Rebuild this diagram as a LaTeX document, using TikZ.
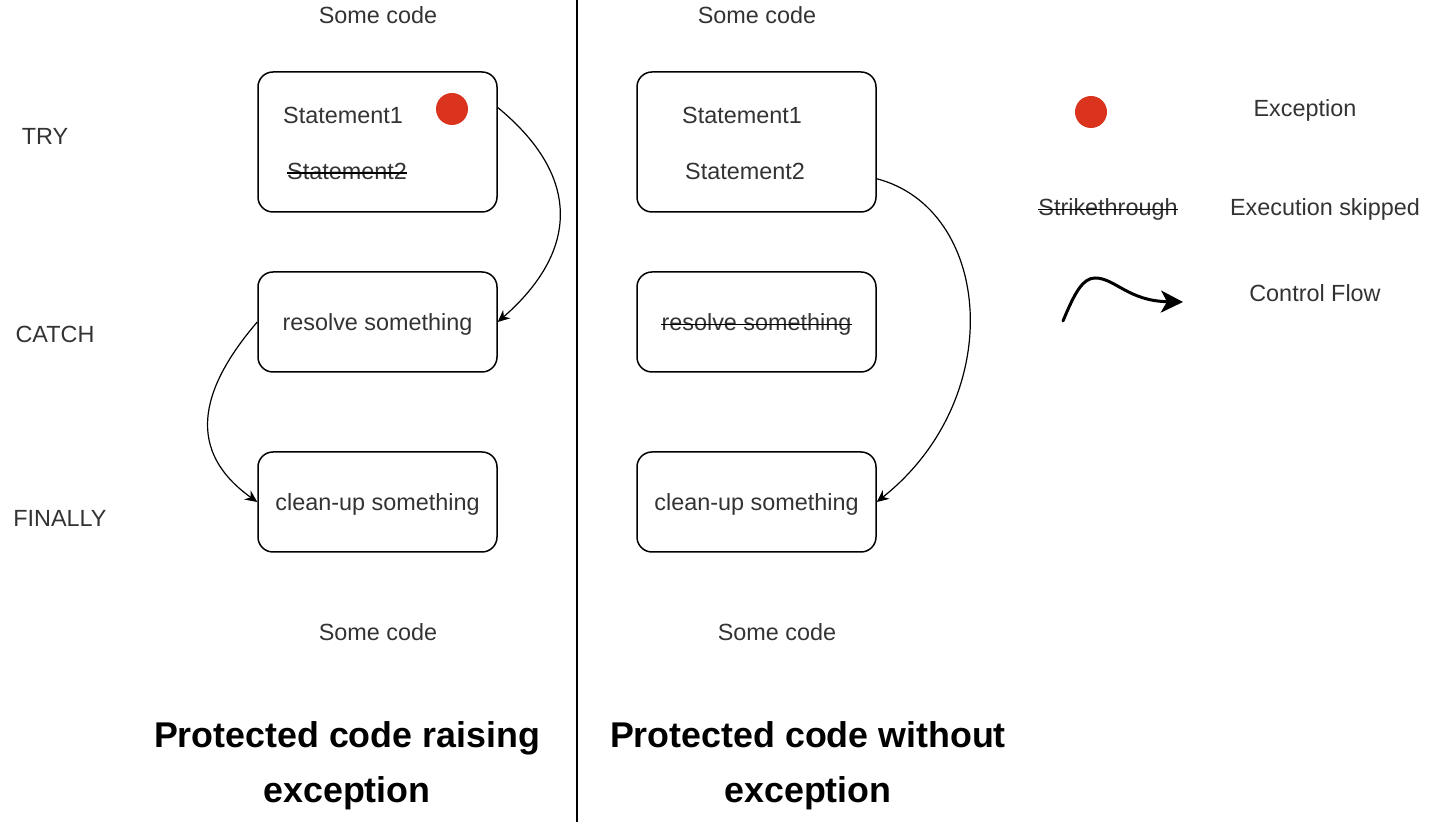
\documentclass[tikz,border=0pt]{standalone}
\usepackage{fontspec}
\setmainfont{Liberation Sans}
\usepackage{tikz}
\usetikzlibrary{positioning,arrows.meta}
\definecolor{ExcRed}{RGB}{218, 52, 30}
\definecolor{CodeGrey}{RGB}{51, 51, 51}

\begin{document}
\begin{tikzpicture}[x=0.5pt, y=-0.5pt,
    blockbox/.style={draw, line width=0.75pt, rounded corners=7.5pt, minimum width=119.5pt, minimum height=50pt},
    codetext/.style={text=CodeGrey, font=\fontsize{11.7}{14}\selectfont, inner sep=0pt, text depth=0pt},
    titletext/.style={align=center, inner sep=0pt, font=\fontsize{17.9}{27.5}\selectfont\bfseries},
    flowarrow/.style={-{Stealth[length=6pt, width=5.5pt]}, line width=0.6pt},
    strikeline/.style={line width=0.75pt},
    errdot/.style={circle, fill=ExcRed, minimum size=16pt, inner sep=0pt}]
  \useasboundingbox (0,0) rectangle (1432,822);

  % divider between the two cases
  \draw[line width=0.75pt] (577,0) -- (577,822);

  % phase labels
  \node[codetext] (phTry) at (45,136) {TRY};
  \node[codetext] (phCatch) at (55,334) {CATCH};
  \node[codetext] (phFinally) at (60,518) {FINALLY};

  % left: protected code raising exception
  \node[codetext] (codeTopL) at (378,15) {Some code};
  \node[blockbox, minimum height=70pt] (tryL) at (377.5,142) {};
  \node[codetext] (stmtOneL) at (343,115) {Statement1};
  \node[codetext] (stmtTwoL) at (347,171) {Statement2};
  \node[errdot] (dotL) at (452,109) {};
  \node[blockbox, codetext] (catchL) at (377.5,322) {resolve something};
  \node[blockbox, codetext] (finL) at (377.5,502) {clean-up something};
  \node[codetext] (codeEndL) at (378,632) {Some code};
  \node[titletext] (titleL) at (347,766) {Protected code raising\\exception};

  \draw[strikeline] ([yshift=3pt]stmtTwoL.base west) -- ([yshift=3pt]stmtTwoL.base east);

  \draw[flowarrow] (tryL.16) .. controls +(85,70) and +(80,-70) .. (catchL.east);
  \draw[flowarrow] (catchL.west) .. controls +(-60,70) and +(-70,-50) .. (finL.west);

  % right: protected code without exception
  \node[codetext] (codeTopR) at (757,15) {Some code};
  \node[blockbox, minimum height=70pt] (tryR) at (756.5,142) {};
  \node[codetext] (stmtOneR) at (742,115) {Statement1};
  \node[codetext] (stmtTwoR) at (745,171) {Statement2};
  \node[blockbox, minimum height=50pt] (catchR) at (756.5,322) {};
  \node[codetext] (resolveR) at (756.5,322) {resolve something};
  \node[blockbox, codetext] (finR) at (756.5,502) {clean-up something};
  \node[codetext] (codeEndR) at (777,632) {Some code};
  \node[titletext] (titleR) at (808,766) {Protected code without\\exception};

  \draw[strikeline] ([yshift=3pt]resolveR.base west) -- ([yshift=3pt]resolveR.base east);

  \draw[flowarrow] (tryR.343) .. controls +(115,30) and +(132,-105) .. (finR.east);

  % legend
  \node[errdot] (legDot) at (1091,112) {};
  \node[codetext] (legExc) at (1305,108) {Exception};
  \node[codetext] (legStrike) at (1108,207) {Strikethrough};
  \node[codetext] (legSkip) at (1325,207) {Execution skipped};
  \draw[strikeline] ([yshift=3pt]legStrike.base west) -- ([yshift=3pt]legStrike.base east);
  \coordinate (flowA) at (1063,321);
  \coordinate (flowB) at (1183,302);
  \draw[-{Stealth[length=11pt, width=11pt, inset=3pt]}, line width=1.5pt, line cap=round]
    (flowA) .. controls (1075,292) and (1083,278) .. (1095,278)
    .. controls (1115,278) and (1128,301) .. (flowB);
  \node[codetext] (legFlow) at (1315,293) {Control Flow};
\end{tikzpicture}
\end{document}
